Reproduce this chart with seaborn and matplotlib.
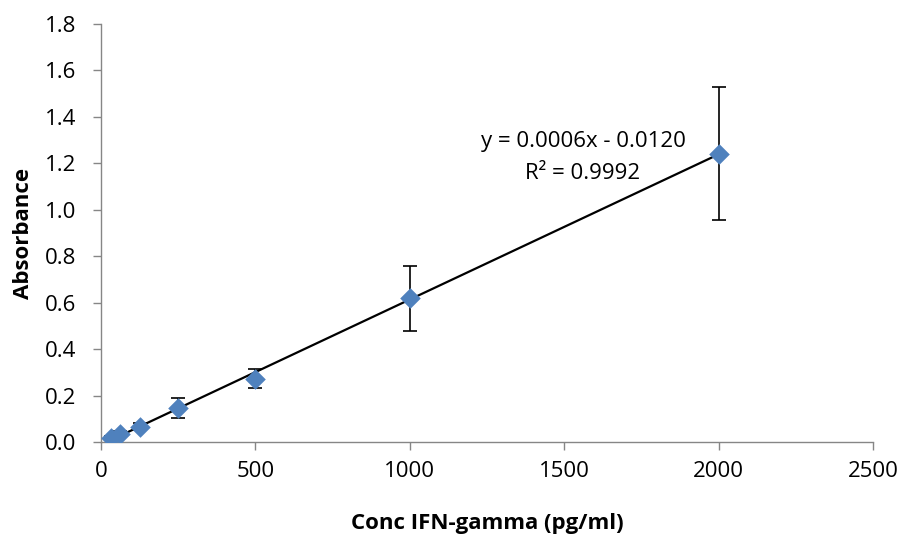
import numpy as np
import pandas as pd
import seaborn as sns
import matplotlib.pyplot as plt

# standard curve values
conc = [31.25, 62.5, 125, 250, 500, 1000, 2000]
absorbance = [0.017, 0.035, 0.065, 0.148, 0.273, 0.620, 1.242]
abs_err = [0.010, 0.012, 0.015, 0.043, 0.040, 0.140, 0.288]

x_ticks = [0, 500, 1000, 1500, 2000, 2500]
y_ticks = [0.0, 0.2, 0.4, 0.6, 0.8, 1.0, 1.2, 1.4, 1.6, 1.8]
eq_lines = ["y = 0.0006x - 0.0120", "R² = 0.9992"]

df = pd.DataFrame({'conc': conc, 'absorbance': absorbance, 'err': abs_err})

sns.set_style('white')
plt.rcParams['font.family'] = ['Open Sans', 'DejaVu Sans']
plt.rcParams['text.color'] = 'black'
plt.rcParams['axes.labelcolor'] = 'black'
plt.rcParams['xtick.labelcolor'] = 'black'
plt.rcParams['ytick.labelcolor'] = 'black'

fig = plt.figure(figsize=(9.04, 5.37), dpi=100)
ax = fig.add_axes([0.1117, 0.1769, 0.8540, 0.7784])

# linear trendline through the points
slope, intercept = np.polyfit(df['conc'], df['absorbance'], 1)
fit_x = np.array([df['conc'].min(), df['conc'].max()])
ax.plot(fit_x, slope * fit_x + intercept, color='black', lw=1.6, zorder=2)

# error bars
ax.errorbar(df['conc'], df['absorbance'], yerr=df['err'], fmt='none',
            ecolor='black', elinewidth=1.2, capsize=5, capthick=1.2, zorder=3)

sns.scatterplot(data=df, x='conc', y='absorbance', marker='D', s=110,
                color='#4F81BD', edgecolor='#4F81BD', linewidth=0, ax=ax, zorder=4)

ax.text(1561, 1.292, eq_lines[0], ha='center', va='center', fontsize=16)
ax.text(1561, 1.158, eq_lines[1], ha='center', va='center', fontsize=16)

ax.set_xlim(0, 2500)
ax.set_ylim(0, 1.8)
ax.set_xticks(x_ticks)
ax.set_yticks(y_ticks)
ax.set_yticklabels([f'{v:.1f}' for v in y_ticks])
ax.tick_params(axis='both', labelsize=16, length=6, width=1, color='#868686',
               labelcolor='black', direction='out', bottom=True, left=True)
ax.tick_params(axis='y', pad=12)
ax.tick_params(axis='x', pad=8)

for side in ['top', 'right']:
    ax.spines[side].set_visible(False)
for side in ['left', 'bottom']:
    ax.spines[side].set_color('#868686')
    ax.spines[side].set_linewidth(1)

ax.set_xlabel('Conc IFN-gamma (pg/ml)', fontsize=16, fontweight='bold')
ax.set_ylabel('Absorbance', fontsize=16, fontweight='bold')
ax.xaxis.set_label_coords(0.5, -0.17)
ax.yaxis.set_label_coords(-0.087, 0.5)

fig.savefig('out.png', dpi=100)
